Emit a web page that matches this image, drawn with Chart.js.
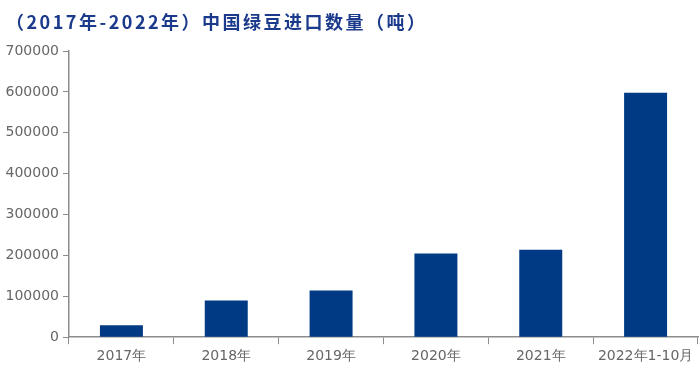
<!DOCTYPE html>
<html>
<head>
<meta charset="utf-8">
<script src="https://cdn.jsdelivr.net/npm/chart.js@4"></script>
<style>
  html, body { margin: 0; padding: 0; background: #fff; }
  #wrap { width: 700px; height: 378px; }
</style>
</head>
<body>
<div id="wrap"><canvas id="barChart" width="700" height="378"></canvas></div>
<script>
// data
const categories = ['2017年', '2018年', '2019年', '2020年', '2021年', '2022年1-10月'];
const importVolume = [29000, 90000, 114000, 205000, 214000, 598000];
const yTicks = [0, 100000, 200000, 300000, 400000, 500000, 600000, 700000];
const chartTitle = '（2017年-2022年）中国绿豆进口数量（吨）';

const axisColor = '#8c8c8c';
const labelColor = '#666666';
const tickFont = { family: '"DejaVu Sans", sans-serif', size: 14 };

// title drawn by hand so letter spacing can be applied
const titlePlugin = {
    id: 'spacedTitle',
    afterDraw(chart) {
        const ctx = chart.ctx;
        ctx.save();
        ctx.font = 'bold 18px "Noto Sans CJK SC", sans-serif';
        ctx.fillStyle = '#1b3a8c';
        ctx.textBaseline = 'middle';
        ctx.textAlign = 'left';
        if ('letterSpacing' in ctx) ctx.letterSpacing = '2.5px';
        ctx.fillText(chartTitle, 6, 22);
        ctx.restore();
    }
};

const config = {
    type: 'bar',
    data: {
        labels: categories,
        datasets: [{
            label: '进口数量',
            data: importVolume,
            backgroundColor: '#003a85',
            barPercentage: 0.41,
            categoryPercentage: 1.0
        }]
    },
    options: {
        responsive: false,
        animation: false,
        layout: { padding: { left: 0, right: 2, top: 51, bottom: 9 } },
        plugins: {
            legend: { display: false },
            tooltip: { enabled: false },
            title: { display: false }
        },
        scales: {
            x: {
                grid: { drawOnChartArea: false, offset: true, color: axisColor, tickLength: 7 },
                border: { color: axisColor, width: 1.5 },
                ticks: {
                    color: labelColor,
                    font: tickFont,
                    padding: 4,
                    maxRotation: 0
                }
            },
            y: {
                min: 0,
                max: 700000,
                afterBuildTicks: function(scale) {
                    scale.ticks = yTicks.map(v => ({ value: v }));
                },
                afterFit: function(scale) { scale.width = 69; },
                grid: { drawOnChartArea: false, color: axisColor, tickLength: 6 },
                border: { color: axisColor, width: 1.5 },
                ticks: {
                    color: labelColor,
                    font: tickFont,
                    padding: 4,
                    callback: v => String(v)
                }
            }
        }
    },
    plugins: [titlePlugin]
};

var barChart = new Chart(document.getElementById('barChart'), config);
</script>
</body>
</html>
